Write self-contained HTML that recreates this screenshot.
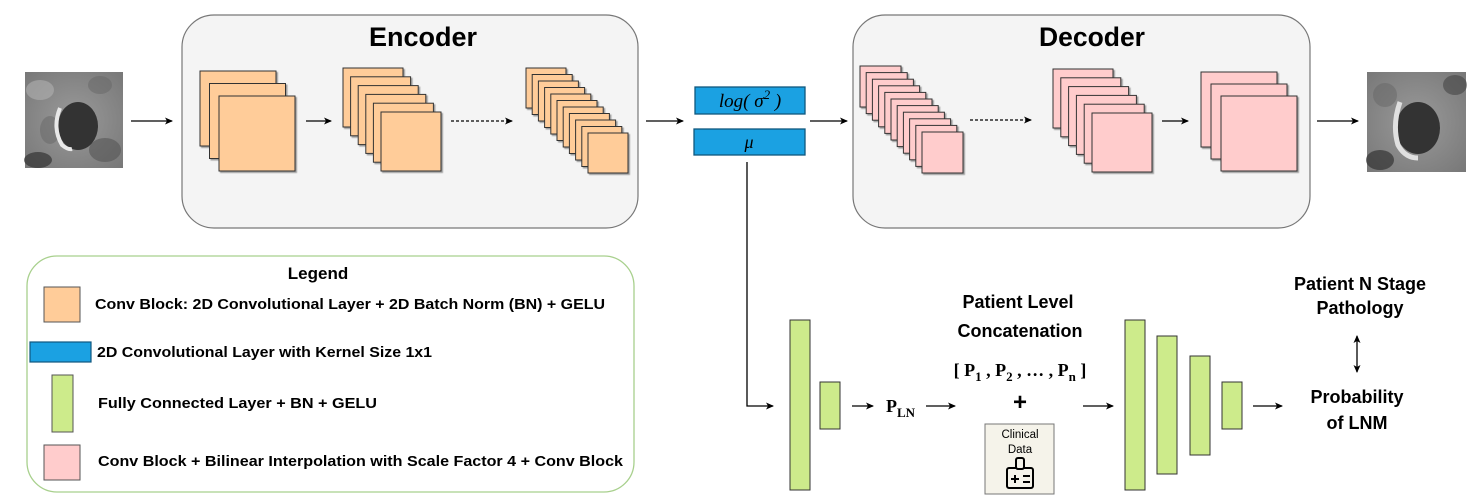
<!DOCTYPE html>
<html><head><meta charset="utf-8"><style>
html,body{margin:0;padding:0;background:#fff;}
svg{display:block;}
text{font-family:"Liberation Sans",Arial,sans-serif;}
.s{font-family:"Liberation Serif","Times New Roman",serif;}
</style></head><body>
<svg width="1468" height="496" viewBox="0 0 1468 496" xmlns="http://www.w3.org/2000/svg">
<defs>
<marker id="ah" markerWidth="8" markerHeight="8" refX="7" refY="4" orient="auto" markerUnits="userSpaceOnUse"><path d="M0,0.5 L8,4 L0,7.5 L2,4 Z" fill="#000"/></marker>
<marker id="ahs" markerWidth="8" markerHeight="8" refX="1" refY="4" orient="auto" markerUnits="userSpaceOnUse"><path d="M8,0.5 L0,4 L8,7.5 L6,4 Z" fill="#000"/></marker>
<radialGradient id="bg1" cx="0.5" cy="0.5" r="0.7"><stop offset="0" stop-color="#9a9a9a"/><stop offset="1" stop-color="#787878"/></radialGradient>
<filter id="sh" x="-10%" y="-10%" width="130%" height="130%"><feDropShadow dx="1.5" dy="1.5" stdDeviation="0.6" flood-color="#888" flood-opacity="0.8"/></filter>
</defs>

<!-- input image -->
<rect x="25" y="72" width="98" height="96" fill="url(#bg1)"/>
<ellipse cx="40" cy="90" rx="14" ry="10" fill="#b0b0b0" opacity="0.6"/>
<ellipse cx="100" cy="85" rx="12" ry="9" fill="#666" opacity="0.5"/>
<ellipse cx="105" cy="150" rx="16" ry="12" fill="#555" opacity="0.6"/>
<ellipse cx="38" cy="160" rx="14" ry="8" fill="#333" opacity="0.7"/>
<ellipse cx="50" cy="130" rx="10" ry="14" fill="#666" opacity="0.5"/>
<ellipse cx="78" cy="126" rx="20" ry="24" fill="#333"/>
<path d="M60,108 Q52,128 62,145 Q68,150 72,149" stroke="#e8e8e8" stroke-width="4" fill="none"/>
<!-- output image -->
<rect x="1367" y="72" width="99" height="100" fill="url(#bg1)"/>
<ellipse cx="1380" cy="160" rx="14" ry="10" fill="#333" opacity="0.7"/>
<ellipse cx="1455" cy="85" rx="12" ry="10" fill="#444" opacity="0.6"/>
<ellipse cx="1385" cy="95" rx="12" ry="12" fill="#666" opacity="0.5"/>
<ellipse cx="1418" cy="128" rx="22" ry="26" fill="#333"/>
<path d="M1400,102 Q1392,125 1398,145 Q1405,158 1418,158" stroke="#e0e0e0" stroke-width="5" fill="none"/>

<!-- arrows top -->
<line x1="131" y1="121" x2="172" y2="121" stroke="#000" stroke-width="1.3" marker-end="url(#ah)"/>
<line x1="646" y1="121" x2="683" y2="121" stroke="#000" stroke-width="1.3" marker-end="url(#ah)"/>
<line x1="810" y1="121" x2="847" y2="121" stroke="#000" stroke-width="1.3" marker-end="url(#ah)"/>
<line x1="1317" y1="121" x2="1358" y2="121" stroke="#000" stroke-width="1.3" marker-end="url(#ah)"/>

<!-- Encoder -->
<rect x="182" y="15" width="456" height="213" rx="32" fill="#f4f4f4" stroke="#777" stroke-width="1.2"/>
<text x="423" y="46" font-size="27" font-weight="bold" text-anchor="middle" textLength="108" lengthAdjust="spacingAndGlyphs">Encoder</text>
<g fill="#ffcc99" stroke="#333" stroke-width="1" filter="url(#sh)">
<rect x="200" y="71" width="76" height="75"/><rect x="209.5" y="83.5" width="76" height="75"/><rect x="219" y="96" width="76" height="75"/>
<rect x="343" y="68" width="60" height="59"/><rect x="350.6" y="76.8" width="60" height="59"/><rect x="358.2" y="85.6" width="60" height="59"/><rect x="365.8" y="94.4" width="60" height="59"/><rect x="373.4" y="103.2" width="60" height="59"/><rect x="381" y="112" width="60" height="59"/>
<rect x="526" y="68" width="40" height="40"/><rect x="532.2" y="74.5" width="40" height="40"/><rect x="538.4" y="81" width="40" height="40"/><rect x="544.6" y="87.5" width="40" height="40"/><rect x="550.8" y="94" width="40" height="40"/><rect x="557" y="100.5" width="40" height="40"/><rect x="563.2" y="107" width="40" height="40"/><rect x="569.4" y="113.5" width="40" height="40"/><rect x="575.6" y="120" width="40" height="40"/><rect x="581.8" y="126.5" width="40" height="40"/><rect x="588" y="133" width="40" height="40"/>
</g>
<line x1="306" y1="121" x2="331" y2="121" stroke="#000" stroke-width="1.3" marker-end="url(#ah)"/>
<line x1="451" y1="121" x2="512" y2="121" stroke="#000" stroke-width="1.3" stroke-dasharray="3,2" marker-end="url(#ah)"/>

<!-- latent -->
<rect x="695" y="87" width="110" height="27" fill="#1ba1e2" stroke="#10577e" stroke-width="1.3"/>
<text x="750" y="107" class="s" font-size="19" font-style="italic" text-anchor="middle">log( σ<tspan dy="-8" font-size="13">2</tspan><tspan dy="8"> )</tspan></text>
<rect x="694" y="129" width="111" height="26" fill="#1ba1e2" stroke="#10577e" stroke-width="1.3"/>
<text x="749" y="148" class="s" font-size="18" font-style="italic" text-anchor="middle">μ</text>

<!-- Decoder -->
<rect x="853" y="15" width="457" height="213" rx="32" fill="#f4f4f4" stroke="#777" stroke-width="1.2"/>
<text x="1092" y="46" font-size="27" font-weight="bold" text-anchor="middle" textLength="106" lengthAdjust="spacingAndGlyphs">Decoder</text>
<g fill="#ffcccc" stroke="#333" stroke-width="1" filter="url(#sh)">
<rect x="860" y="66" width="41" height="41"/><rect x="866.2" y="72.6" width="41" height="41"/><rect x="872.4" y="79.2" width="41" height="41"/><rect x="878.6" y="85.8" width="41" height="41"/><rect x="884.8" y="92.4" width="41" height="41"/><rect x="891" y="99" width="41" height="41"/><rect x="897.2" y="105.6" width="41" height="41"/><rect x="903.4" y="112.2" width="41" height="41"/><rect x="909.6" y="118.8" width="41" height="41"/><rect x="915.8" y="125.4" width="41" height="41"/><rect x="922" y="132" width="41" height="41"/>
<rect x="1053" y="69" width="60" height="59"/><rect x="1060.8" y="77.8" width="60" height="59"/><rect x="1068.6" y="86.6" width="60" height="59"/><rect x="1076.4" y="95.4" width="60" height="59"/><rect x="1084.2" y="104.2" width="60" height="59"/><rect x="1092" y="113" width="60" height="59"/>
<rect x="1201" y="72" width="76" height="75"/><rect x="1211" y="84" width="76" height="75"/><rect x="1221" y="96" width="76" height="75"/>
</g>
<line x1="970" y1="120" x2="1031" y2="120" stroke="#000" stroke-width="1.3" stroke-dasharray="3,2" marker-end="url(#ah)"/>
<line x1="1162" y1="121" x2="1188" y2="121" stroke="#000" stroke-width="1.3" marker-end="url(#ah)"/>

<!-- bottom flow -->
<polyline points="747,162 747,406 773,406" fill="none" stroke="#000" stroke-width="1.3" marker-end="url(#ah)"/>
<g fill="#cdeb8b" stroke="#333" stroke-width="1">
<rect x="790" y="320" width="20" height="170"/>
<rect x="820" y="382" width="20" height="47"/>
<rect x="1125" y="320" width="20" height="170"/>
<rect x="1157" y="336" width="20" height="138"/>
<rect x="1190" y="356" width="20" height="99"/>
<rect x="1222" y="382" width="20" height="47"/>
</g>
<line x1="852" y1="406" x2="873" y2="406" stroke="#000" stroke-width="1.3" marker-end="url(#ah)"/>
<text x="886" y="412" class="s" font-size="18" font-weight="bold">P<tspan dy="5" font-size="13">LN</tspan></text>
<line x1="926" y1="406" x2="955" y2="406" stroke="#000" stroke-width="1.3" marker-end="url(#ah)"/>
<text x="1018" y="308" font-size="18" font-weight="bold" text-anchor="middle">Patient Level</text>
<text x="1020" y="337" font-size="18" font-weight="bold" text-anchor="middle">Concatenation</text>
<text x="1020" y="376" class="s" font-size="18" font-weight="bold" text-anchor="middle">[ P<tspan dy="5" font-size="13">1</tspan><tspan dy="-5"> , P</tspan><tspan dy="5" font-size="13">2</tspan><tspan dy="-5"> , … , P</tspan><tspan dy="5" font-size="13">n</tspan><tspan dy="-5"> ]</tspan></text>
<text x="1020" y="410" font-size="24" font-weight="bold" text-anchor="middle">+</text>
<rect x="985" y="424" width="69" height="70" fill="#f5f3ea" stroke="#777" stroke-width="1"/>
<text x="1020" y="438" font-size="11.5" text-anchor="middle">Clinical</text>
<text x="1020" y="453" font-size="11.5" text-anchor="middle">Data</text>
<g fill="none" stroke="#000" stroke-width="2">
<rect x="1007" y="468" width="26" height="20" rx="2"/>
<rect x="1016" y="458" width="8" height="11" rx="2" fill="#f5f3ea"/>
<path d="M1011,479 h8 M1015,475 v8 M1023,476 h7 M1023,482 h7"/>
</g>
<line x1="1083" y1="406" x2="1113" y2="406" stroke="#000" stroke-width="1.3" marker-end="url(#ah)"/>
<line x1="1253" y1="406" x2="1282" y2="406" stroke="#000" stroke-width="1.3" marker-end="url(#ah)"/>
<text x="1357" y="403" font-size="18" font-weight="bold" text-anchor="middle">Probability</text>
<text x="1357" y="429" font-size="18" font-weight="bold" text-anchor="middle">of LNM</text>
<text x="1360" y="290" font-size="18" font-weight="bold" text-anchor="middle">Patient N Stage</text>
<text x="1360" y="314" font-size="18" font-weight="bold" text-anchor="middle">Pathology</text>
<line x1="1357" y1="336" x2="1357" y2="372" stroke="#000" stroke-width="1.3" marker-start="url(#ahs)" marker-end="url(#ah)"/>

<!-- Legend -->
<rect x="27" y="256" width="607" height="236" rx="30" fill="#fff" stroke="#a8d08d" stroke-width="1.3"/>
<text x="318" y="279" font-size="17" font-weight="bold" text-anchor="middle">Legend</text>
<rect x="44" y="287" width="36" height="35" fill="#ffcc99" stroke="#555" stroke-width="1"/>
<text x="95" y="309" font-size="14.5" font-weight="bold" textLength="510" lengthAdjust="spacingAndGlyphs">Conv Block: 2D Convolutional Layer + 2D Batch Norm (BN) + GELU</text>
<rect x="30" y="342" width="61" height="20" fill="#1ba1e2" stroke="#10577e" stroke-width="1.2"/>
<text x="97" y="357" font-size="14.5" font-weight="bold" textLength="335" lengthAdjust="spacingAndGlyphs">2D Convolutional Layer with Kernel Size 1x1</text>
<rect x="52" y="375" width="21" height="57" fill="#cdeb8b" stroke="#555" stroke-width="1"/>
<text x="98" y="408" font-size="14.5" font-weight="bold" textLength="279" lengthAdjust="spacingAndGlyphs">Fully Connected Layer + BN +  GELU</text>
<rect x="44" y="445" width="36" height="35" fill="#ffcccc" stroke="#555" stroke-width="1"/>
<text x="98" y="466" font-size="14.5" font-weight="bold" textLength="525" lengthAdjust="spacingAndGlyphs">Conv Block  + Bilinear Interpolation with Scale Factor 4 + Conv Block</text>
</svg>
</body></html>
